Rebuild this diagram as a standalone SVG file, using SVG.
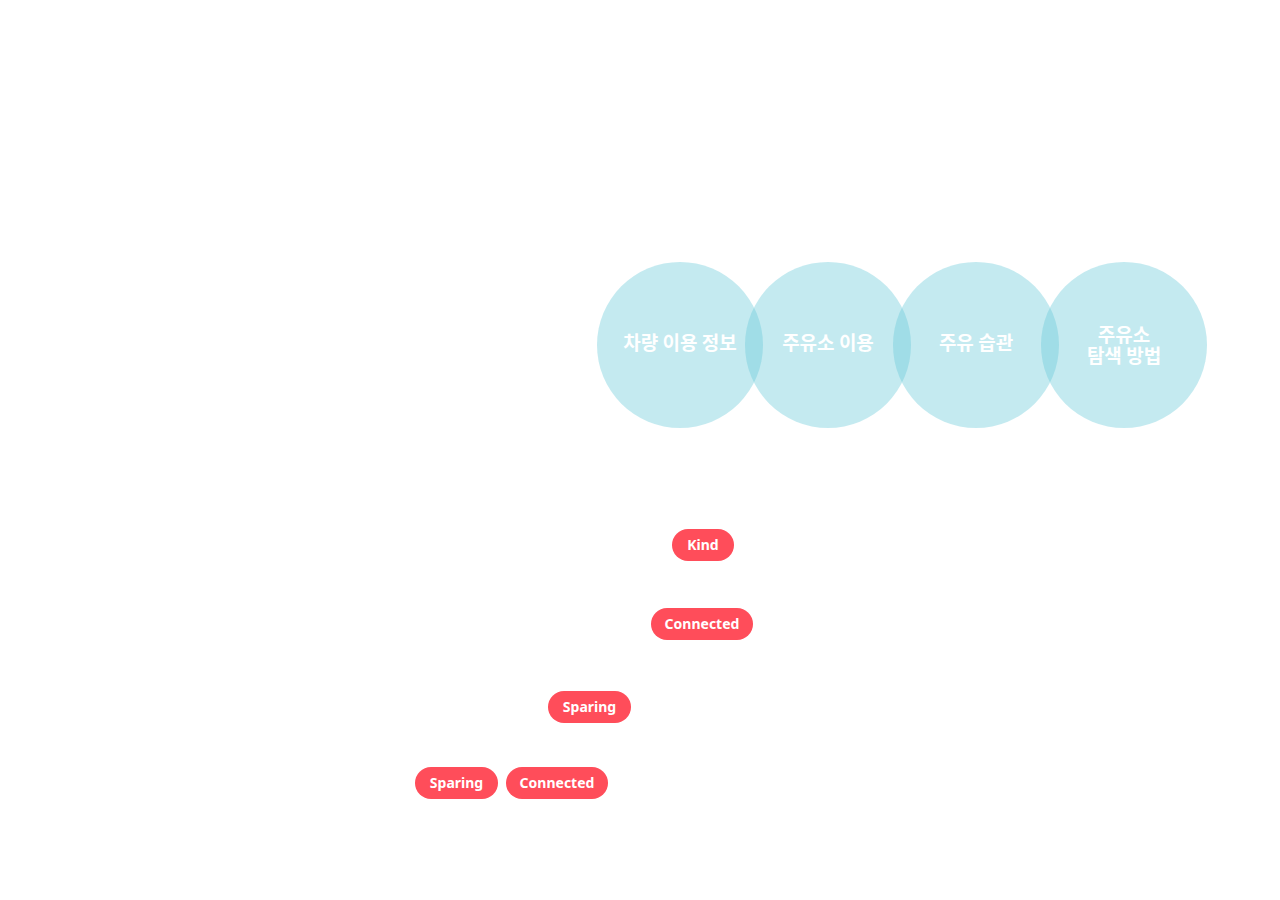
<svg xmlns="http://www.w3.org/2000/svg" width="1280" height="900" viewBox="0 0 1280 900">
<style>
.c{fill:#68c9d9;fill-opacity:0.39}
.ct{font-family:"Noto Sans CJK KR","Noto Sans",sans-serif;font-weight:700;font-size:19px;fill:#ffffff;text-anchor:middle}
.p{fill:#ff4d5a}
.pt{font-family:"Noto Sans","Liberation Sans",sans-serif;font-weight:700;font-size:14px;fill:#ffffff;text-anchor:middle}
</style>
<rect width="1280" height="900" fill="#ffffff"/>
<g id="circle1"><circle class="c" cx="680" cy="345" r="83"/><text class="ct" x="680" y="350">차량 이용 정보</text></g>
<g id="circle2"><circle class="c" cx="828" cy="345" r="83"/><text class="ct" x="828" y="350">주유소 이용</text></g>
<g id="circle3"><circle class="c" cx="976" cy="345" r="83"/><text class="ct" x="976" y="350">주유 습관</text></g>
<g id="circle4"><circle class="c" cx="1124" cy="345" r="83"/><text class="ct" x="1124" y="342"><tspan x="1124" y="342">주유소</tspan><tspan x="1124" y="363">탐색 방법</tspan></text></g>
<g id="tag-kind"><rect class="p" x="672" y="529" width="62" height="32" rx="16"/><text class="pt" x="703" y="550">Kind</text></g>
<g id="tag-connected1"><rect class="p" x="651" y="608" width="102" height="32" rx="16"/><text class="pt" x="702" y="629">Connected</text></g>
<g id="tag-sparing1"><rect class="p" x="548" y="691" width="83" height="32" rx="16"/><text class="pt" x="589.5" y="712">Sparing</text></g>
<g id="tag-sparing2"><rect class="p" x="415" y="767" width="83" height="32" rx="16"/><text class="pt" x="456.5" y="788">Sparing</text></g>
<g id="tag-connected2"><rect class="p" x="506" y="767" width="102" height="32" rx="16"/><text class="pt" x="557" y="788">Connected</text></g>
<g id="connectors"></g>
</svg>
